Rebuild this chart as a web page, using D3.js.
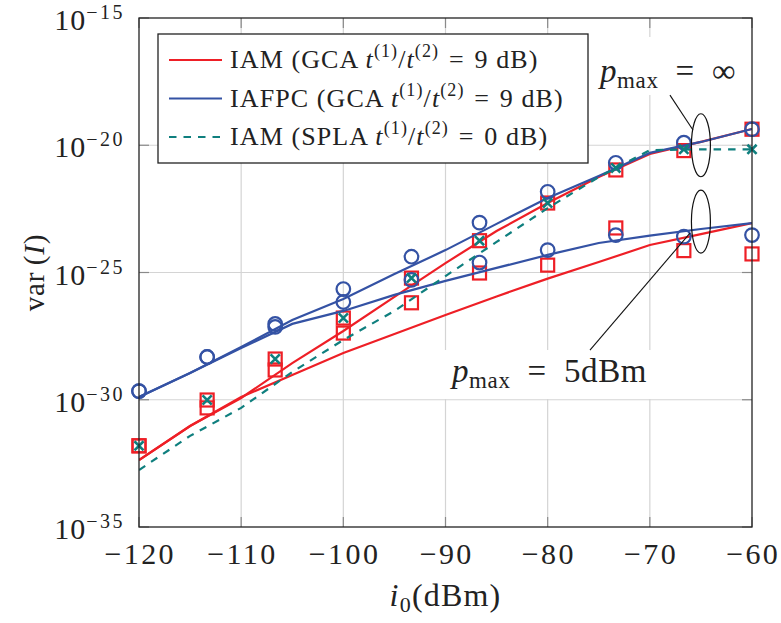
<!DOCTYPE html>
<html>
<head>
<meta charset="utf-8">
<script src="https://cdn.jsdelivr.net/npm/d3@7"></script>
<style>
  body { margin: 0; background: #fff; }
  svg text { font-family: "Liberation Serif", "DejaVu Serif", serif; fill: #222; }
</style>
</head>
<body>
<script>
// chart size
var width = 781;
var height = 623;

// i0 in dBm where the simulated points (markers) were taken
var iSim = [-120, -113.33, -106.67, -100, -93.33, -86.67, -80, -73.33, -66.67, -60];
// i0 in dBm for the analytic curves
var iAna = [-120, -115, -110, -105, -100, -95, -90, -85, -80, -75, -70, -65, -60];

// analytic curves, log10 of var(I)
var iamGcaInfAna   = [-32.37, -31.03, -29.93, -28.56, -27.30, -25.96, -24.63, -23.37, -22.27, -21.25, -20.34, -19.87, -19.36];
var iafpcGcaInfAna = [-29.89, -28.95, -27.93, -26.87, -26.04, -25.06, -24.12, -23.09, -22.07, -21.21, -20.30, -19.87, -19.36];
var iamSplaAna     = [-32.76, -31.42, -30.32, -28.91, -27.65, -26.51, -25.14, -23.80, -22.47, -21.25, -20.19, -20.16, -20.16];
var iamGca5Ana     = [-32.37, -31.03, -29.89, -29.03, -28.16, -27.42, -26.67, -25.94, -25.24, -24.59, -23.92, -23.49, -23.06];
var iafpcGca5Ana   = [-29.89, -28.95, -27.97, -27.02, -26.51, -25.88, -25.33, -24.82, -24.31, -23.84, -23.55, -23.29, -23.06];

// simulated points, log10 of var(I)
var iamGcaInfSim   = [-31.81, -30.01, -28.40, -26.79, -25.22, -23.75, -22.27, -20.97, -20.21, -19.37];
var iafpcGcaInfSim = [-29.66, -28.32, -27.02, -25.65, -24.38, -23.04, -21.83, -20.69, -19.90, -19.37];
var iamSplaSim     = [-31.81, -30.01, -28.40, -26.79, -25.22, -23.75, -22.27, -20.89, -20.16, -20.16];
var iamGca5Sim     = [-31.81, -30.32, -28.83, -27.38, -26.19, -25.02, -24.71, -23.25, -24.14, -24.27];
var iafpcGca5Sim   = [-29.66, -28.32, -27.14, -26.16, -25.29, -24.61, -24.12, -23.53, -23.59, -23.53];

// ticks
var xTicks = [-120, -110, -100, -90, -80, -70, -60];
var yTickExp = [-15, -20, -25, -30, -35];

var red = "#ee1f26";
var blue = "#3452a4";
var teal = "#0f7f7e";

var margin = {left: 139, right: 29, top: 18, bottom: 96};
var x = d3.scaleLinear().domain([-120, -60]).range([margin.left, width - margin.right]);
var y = d3.scaleLog().domain([1e-35, 1e-15]).range([height - margin.bottom, margin.top]);

var svg = d3.select("body").append("svg")
  .attr("width", width)
  .attr("height", height);

var x0 = x.range()[0], x1 = x.range()[1];
var y0 = y.range()[1], y1 = y.range()[0];

// grid
svg.append("g").selectAll("line.gx")
  .data(xTicks.slice(1, -1))
  .enter().append("line")
  .attr("x1", function(d) { return x(d); })
  .attr("x2", function(d) { return x(d); })
  .attr("y1", y0).attr("y2", y1)
  .style("stroke", "#d4d4d4").style("stroke-width", 1.2);

svg.append("g").selectAll("line.gy")
  .data(yTickExp.slice(1, -1))
  .enter().append("line")
  .attr("x1", x0).attr("x2", x1)
  .attr("y1", function(d) { return y(Math.pow(10, d)); })
  .attr("y2", function(d) { return y(Math.pow(10, d)); })
  .style("stroke", "#d4d4d4").style("stroke-width", 1.2);

// tick marks, inward on every side
var tl = 10;
var ticks = svg.append("g").style("stroke", "#8a8a8a").style("stroke-width", 1.2);
xTicks.forEach(function(d) {
  ticks.append("line").attr("x1", x(d)).attr("x2", x(d)).attr("y1", y1).attr("y2", y1 - tl);
  ticks.append("line").attr("x1", x(d)).attr("x2", x(d)).attr("y1", y0).attr("y2", y0 + tl);
});
yTickExp.forEach(function(d) {
  var yy = y(Math.pow(10, d));
  ticks.append("line").attr("x1", x0).attr("x2", x0 + tl).attr("y1", yy).attr("y2", yy);
  ticks.append("line").attr("x1", x1).attr("x2", x1 - tl).attr("y1", yy).attr("y2", yy);
});

// white boxes behind the annotations hide the grid
svg.append("rect").attr("x", 592).attr("y", 37).attr("width", 155).attr("height", 58).style("fill", "#fff");
svg.append("rect").attr("x", 437).attr("y", 350).attr("width", 220).attr("height", 49).style("fill", "#fff");

// clip for the curves
svg.append("clipPath").attr("id", "plotClip")
  .append("rect").attr("x", x0).attr("y", y0).attr("width", x1 - x0).attr("height", y1 - y0);

var line = d3.line()
  .x(function(d) { return x(d[0]); })
  .y(function(d) { return y(Math.pow(10, d[1])); });

function pairs(xs, ys) {
  return xs.map(function(v, i) { return [v, ys[i]]; });
}

function drawCurve(xs, ys, color, dash) {
  svg.append("path")
    .datum(pairs(xs, ys))
    .attr("clip-path", "url(#plotClip)")
    .attr("d", line)
    .style("fill", "none")
    .style("stroke", color)
    .style("stroke-width", 2.2)
    .style("stroke-dasharray", dash || null);
}

function drawSquares(xs, ys) {
  svg.append("g").selectAll("rect")
    .data(pairs(xs, ys))
    .enter().append("rect")
    .attr("x", function(d) { return x(d[0]) - 6.5; })
    .attr("y", function(d) { return y(Math.pow(10, d[1])) - 6.5; })
    .attr("width", 13).attr("height", 13)
    .style("fill", "none").style("stroke", red).style("stroke-width", 2.2);
}

function drawCircles(xs, ys) {
  svg.append("g").selectAll("circle")
    .data(pairs(xs, ys))
    .enter().append("circle")
    .attr("cx", function(d) { return x(d[0]); })
    .attr("cy", function(d) { return y(Math.pow(10, d[1])); })
    .attr("r", 6.8)
    .style("fill", "none").style("stroke", blue).style("stroke-width", 2.2);
}

function drawCrosses(xs, ys) {
  svg.append("g").selectAll("path")
    .data(pairs(xs, ys))
    .enter().append("path")
    .attr("d", function(d) {
      var cx = x(d[0]), cy = y(Math.pow(10, d[1])), s = 4.6;
      return "M" + (cx - s) + "," + (cy - s) + "L" + (cx + s) + "," + (cy + s) +
             "M" + (cx - s) + "," + (cy + s) + "L" + (cx + s) + "," + (cy - s);
    })
    .style("stroke", teal).style("stroke-width", 2.6);
}

// red: IAM GCA
drawCurve(iAna, iamGcaInfAna, red);
drawCurve(iAna, iamGca5Ana, red);
drawSquares(iSim, iamGcaInfSim);
drawSquares(iSim, iamGca5Sim);
// blue: IAFPC GCA
drawCurve(iAna, iafpcGcaInfAna, blue);
drawCurve(iAna, iafpcGca5Ana, blue);
drawCircles(iSim, iafpcGcaInfSim);
drawCircles(iSim, iafpcGca5Sim);
// teal: IAM SPLA
drawCurve(iAna, iamSplaAna, teal, "7.5,7");
drawCrosses(iSim, iamSplaSim);

// frame
svg.append("rect")
  .attr("x", x0).attr("y", y0).attr("width", x1 - x0).attr("height", y1 - y0)
  .style("fill", "none").style("stroke", "#222").style("stroke-width", 1.3);

// x tick labels
svg.append("g").selectAll("text")
  .data(xTicks)
  .enter().append("text")
  .attr("x", function(d) { return x(d) + 1.2; })
  .attr("y", y1 + 37)
  .attr("text-anchor", "middle")
  .style("font-size", "30px")
  .style("letter-spacing", "2.4px")
  .text(function(d) { return "\u2212" + Math.abs(d); });

// y tick labels 10^k
yTickExp.forEach(function(d) {
  var t = svg.append("text")
    .attr("x", 125)
    .attr("y", y(Math.pow(10, d)) + 12)
    .attr("text-anchor", "end")
    .style("font-size", "30px");
  t.append("tspan").style("letter-spacing", "1px").text("10");
  t.append("tspan").attr("dy", -11).style("font-size", "20px")
    .style("letter-spacing", "2.5px").text("\u2212" + Math.abs(d));
});

// axis labels
var yl = svg.append("text")
  .attr("transform", "translate(44," + ((y0 + y1) / 2) + ") rotate(-90)")
  .attr("text-anchor", "middle")
  .style("font-size", "29px")
  .style("letter-spacing", "0.8px");
yl.append("tspan").text("var\u2009(");
yl.append("tspan").style("font-style", "italic").text("I");
yl.append("tspan").text(")");

var xl = svg.append("text")
  .attr("x", (x0 + x1) / 2)
  .attr("y", 606)
  .attr("text-anchor", "middle")
  .style("font-size", "32px")
  .style("letter-spacing", "1.2px");
xl.append("tspan").style("font-style", "italic").text("i");
xl.append("tspan").attr("dy", 6).style("font-size", "22px").text("0");
xl.append("tspan").attr("dy", -6).text("(dBm)");

// legend
var legendItems = [
  {name: "IAM", scheme: "GCA", ratio: "9", color: red, dash: null},
  {name: "IAFPC", scheme: "GCA", ratio: "9", color: blue, dash: null},
  {name: "IAM", scheme: "SPLA", ratio: "0", color: teal, dash: "7.5,7"}
];
var lg = svg.append("g");
lg.append("rect")
  .attr("x", 158).attr("y", 34).attr("width", 430).attr("height", 129)
  .style("fill", "#fff").style("stroke", "#222").style("stroke-width", 1.3);
legendItems.forEach(function(d, i) {
  var ry = 60 + i * 38.5;
  lg.append("line")
    .attr("x1", 169).attr("x2", 222).attr("y1", ry).attr("y2", ry)
    .style("stroke", d.color).style("stroke-width", 2.2)
    .style("stroke-dasharray", d.dash);
  var t = lg.append("text").attr("x", 230).attr("y", ry + 8)
    .style("font-size", "26px").style("letter-spacing", "1.1px");
  t.append("tspan").text(d.name + " (" + d.scheme + " ");
  t.append("tspan").style("font-style", "italic").text("t");
  t.append("tspan").attr("dy", -11).style("font-size", "18px").text("(1)");
  t.append("tspan").attr("dy", 11).text("/");
  t.append("tspan").style("font-style", "italic").text("t");
  t.append("tspan").attr("dy", -11).style("font-size", "18px").text("(2)");
  t.append("tspan").attr("dy", 11).text("\u2004=\u2004" + d.ratio + " dB)");
});

// annotations: ellipses round the two groups of curves
var groups = [
  {label: "\u221e", cy: -20, lx: 600, ly: 82, from: [-68.03, -18.03], to: [-65.78, -19.40]},
  {label: "5dBm", cy: -23, lx: 452, ly: 382, from: [-75.86, -28.05], to: [-66.07, -23.45]}
];
groups.forEach(function(g) {
  svg.append("ellipse")
    .attr("cx", x(-65)).attr("cy", y(Math.pow(10, g.cy)))
    .attr("rx", 9.5).attr("ry", 31.5)
    .style("fill", "none").style("stroke", "#111").style("stroke-width", 1.2);
  svg.append("line")
    .attr("x1", x(g.from[0])).attr("y1", y(Math.pow(10, g.from[1])))
    .attr("x2", x(g.to[0])).attr("y2", y(Math.pow(10, g.to[1])))
    .style("stroke", "#111").style("stroke-width", 1.1);
  var t = svg.append("text").attr("x", g.lx).attr("y", g.ly)
    .style("font-size", "33px").style("letter-spacing", "0.6px");
  t.append("tspan").style("font-style", "italic").text("p");
  t.append("tspan").attr("dy", 6).style("font-size", "23px").text("max");
  t.append("tspan").attr("dy", -6).text("\u2002=\u2002" + g.label);
});
</script>
</body>
</html>
